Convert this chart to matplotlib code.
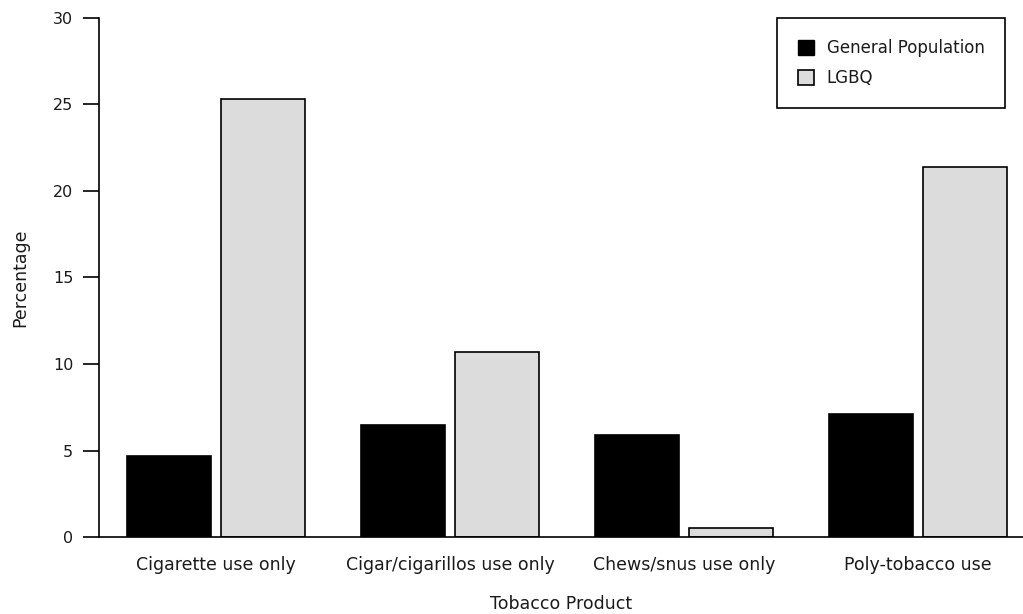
import numpy as np
import matplotlib.pyplot as plt
from matplotlib.patches import Patch

categories = ["Cigarette use only", "Cigar/cigarillos use only",
              "Chews/snus use only", "Poly-tobacco use"]
general_population = [4.7, 6.5, 5.9, 7.1]
lgbq = [25.3, 10.7, 0.5, 21.4]
y_ticks = [0, 5, 10, 15, 20, 25, 30]

plt.rcParams['font.family'] = ['Verdana', 'DejaVu Sans']
text_color = "#1a1a1a"

fig = plt.figure(figsize=(10.23, 6.14), dpi=100)
ax = fig.add_axes([0.0968, 0.1254, 0.9032, 0.8453])

x = np.arange(len(categories))
width = 0.36
ax.bar(x - 0.2, general_population, width, color="black",
       edgecolor="black", linewidth=1.2, label="General Population")
ax.bar(x + 0.2, lgbq, width, color="#dcdcdc",
       edgecolor="black", linewidth=1.2, label="LGBQ")

ax.set_xlim(-0.5, 3.449)
ax.set_ylim(0, 30)
ax.set_yticks(y_ticks)
ax.set_xticks(x)
ax.set_xticklabels(categories, fontsize=12.5, color=text_color)
ax.tick_params(axis="y", length=11.5, width=1.2, pad=7, labelsize=11.5,
               labelcolor=text_color)
ax.tick_params(axis="x", length=0, pad=14)

for side in ["top", "right"]:
    ax.spines[side].set_visible(False)
ax.spines["left"].set_linewidth(1.2)
ax.spines["bottom"].set_linewidth(1.2)

ax.set_xlabel("Tobacco Product", fontsize=12.5, labelpad=15, color=text_color)
ax.set_ylabel("Percentage", fontsize=12.5, labelpad=17, color=text_color)

# legend with square swatches and plain black frame
handles = [Patch(facecolor="black", edgecolor="black", label="General Population"),
           Patch(facecolor="#dcdcdc", edgecolor="black", linewidth=1.2, label="LGBQ")]
leg = ax.legend(handles=handles, loc="upper right",
                bbox_to_anchor=(0.981, 1.0), fontsize=12,
                handlelength=1.0, handleheight=1.0, handletextpad=0.75,
                borderpad=1.25, labelspacing=0.75, borderaxespad=0,
                fancybox=False, framealpha=1)
leg.get_frame().set_edgecolor("black")
leg.get_frame().set_linewidth(1.2)
for t in leg.get_texts():
    t.set_color(text_color)

fig.savefig("out.png", dpi=100)
